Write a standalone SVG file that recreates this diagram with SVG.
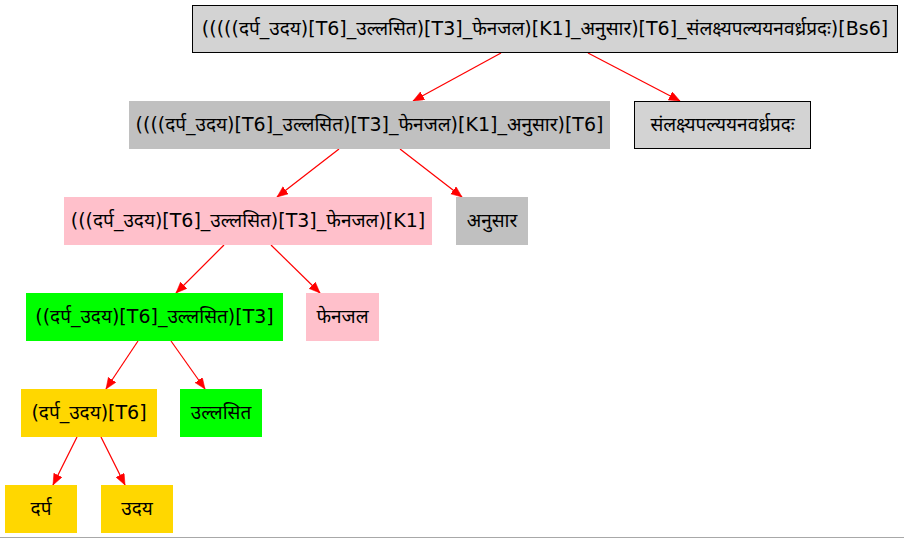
<svg xmlns="http://www.w3.org/2000/svg" width="904" height="539" viewBox="0 0 904 539">
<defs>
<marker id="ah" markerUnits="userSpaceOnUse" markerWidth="12" markerHeight="10" refX="11" refY="4.5" orient="auto">
<path d="M0,0 L11,4.5 L0,9 z" fill="#ff0000" stroke="#ff0000" stroke-width="0.5"/>
</marker>
</defs>
<style>
text{font-family:"DejaVu Sans","Noto Sans","Liberation Sans",sans-serif;font-size:19px;fill:#000;text-anchor:middle}
.e{stroke:#ff0000;stroke-width:1.2;fill:none;marker-end:url(#ah)}
</style>
<rect x="0" y="0" width="904" height="539" fill="#fff"/>
<g id="edges">
<line class="e" x1="501" y1="53" x2="413" y2="101"/>
<line class="e" x1="588" y1="53" x2="680" y2="101"/>
<line class="e" x1="339" y1="149" x2="277" y2="197"/>
<line class="e" x1="400" y1="149" x2="462" y2="197"/>
<line class="e" x1="224" y1="245" x2="176" y2="293"/>
<line class="e" x1="271" y1="245" x2="320" y2="293"/>
<line class="e" x1="138" y1="341" x2="106" y2="389"/>
<line class="e" x1="171" y1="341" x2="205" y2="389"/>
<line class="e" x1="77" y1="437" x2="53" y2="485"/>
<line class="e" x1="101" y1="437" x2="125" y2="485"/>
</g>
<g id="n0"><rect x="192.5" y="5.5" width="705" height="47" fill="#d3d3d3" stroke="#000"/><text x="545" y="35">(((((दर्प_उदय)[T6]_उल्लसित)[T3]_फेनजल)[K1]_अनुसार)[T6]_संलक्ष्यपल्ययनवर्ध्रप्रदः)[Bs6]</text></g>
<g id="n1"><rect x="129" y="101" width="481" height="48" fill="#c0c0c0"/><text x="369.5" y="131">((((दर्प_उदय)[T6]_उल्लसित)[T3]_फेनजल)[K1]_अनुसार)[T6]</text></g>
<g id="n2"><rect x="634.5" y="101.5" width="176" height="47" fill="#d3d3d3" stroke="#000"/><text x="722.5" y="131">संलक्ष्यपल्ययनवर्ध्रप्रदः</text></g>
<g id="n3"><rect x="64" y="197" width="368" height="48" fill="#ffc0cb"/><text x="248" y="227">(((दर्प_उदय)[T6]_उल्लसित)[T3]_फेनजल)[K1]</text></g>
<g id="n4"><rect x="456" y="197" width="72" height="48" fill="#c0c0c0"/><text x="492" y="227">अनुसार</text></g>
<g id="n5"><rect x="26" y="293" width="257" height="48" fill="#00ff00"/><text x="154.5" y="323">((दर्प_उदय)[T6]_उल्लसित)[T3]</text></g>
<g id="n6"><rect x="306" y="293" width="73" height="48" fill="#ffc0cb"/><text x="342.5" y="323">फेनजल</text></g>
<g id="n7"><rect x="21" y="389" width="136" height="48" fill="#ffd700"/><text x="89" y="419">(दर्प_उदय)[T6]</text></g>
<g id="n8"><rect x="180" y="389" width="82" height="48" fill="#00ff00"/><text x="221" y="419">उल्लसित</text></g>
<g id="n9"><rect x="5" y="485" width="72" height="48" fill="#ffd700"/><text x="41" y="515">दर्प</text></g>
<g id="n10"><rect x="101" y="485" width="72" height="48" fill="#ffd700"/><text x="137" y="515">उदय</text></g>
<line x1="0" y1="537.5" x2="904" y2="537.5" stroke="#a8a8a8" stroke-width="1"/>
</svg>
